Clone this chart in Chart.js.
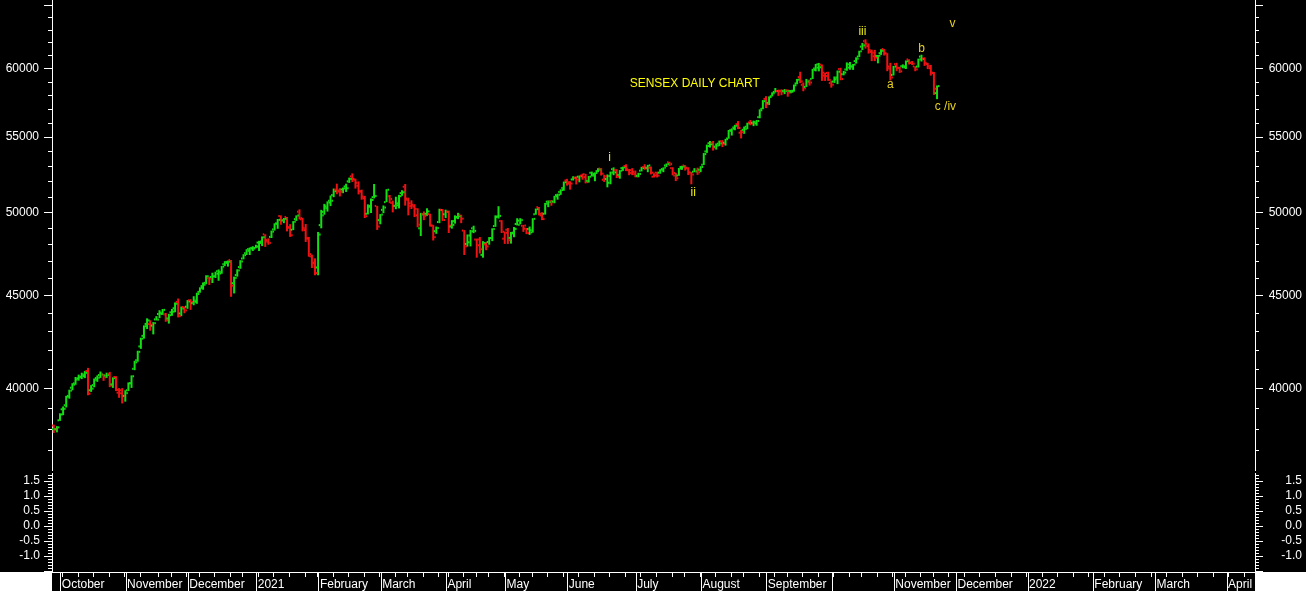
<!DOCTYPE html>
<html>
<head>
<meta charset="utf-8">
<script src="https://cdn.jsdelivr.net/npm/chart.js@4.4.1/dist/chart.umd.min.js"></script>
<style>
  html, body { margin: 0; padding: 0; background: #000; }
  #wrap { position: relative; width: 1306px; height: 591px; background: #000; overflow: hidden; }
  #priceCanvas { position: absolute; left: 0; top: 0; }
  #indCanvas { position: absolute; left: 0; top: 471px; }
</style>
</head>
<body>
<div id="wrap">
  <canvas id="priceCanvas" width="1306" height="471"></canvas>
  <canvas id="indCanvas" width="1306" height="120"></canvas>
</div>
<script>
// daily bars, [open, high, low, close], one small array per month
const sep20 = [[37620,38020,37590,37982],[38160,38200,37800,37973],[37980,38130,37830,38068]];
const oct20 = [[38410,38754,38384,38697],[38950,39090,38660,38974],[39150,39620,39040,39574],[39620,39930,39480,39879],
  [40030,40260,39900,40183],[40250,40580,40180,40509],[40450,40700,40390,40594],[40560,40800,40470,40626],
  [40700,40890,40520,40795],[40890,41050,39650,39728],[39900,40160,39820,39983],[40160,40500,40050,40432],
  [40520,40660,40330,40544],[40680,40860,40530,40708],[40700,40740,40380,40559],[40650,40800,40530,40686],
  [40740,40840,40060,40146],[40200,40560,40020,40522],[40580,40620,39860,39922],[39780,40010,39520,39750],
  [39900,40010,39240,39614]];
const nov20 = [[39620,39900,39330,39758],[39900,40300,39860,40261],[40250,40660,40020,40616],[41000,41420,40930,41340],
  [41450,41950,41370,41893],[42180,42650,42050,42597],[42750,43320,42600,43278],[43400,43710,43120,43594],
  [43390,43600,43030,43357],[43300,43500,42830,43443],[43650,43830,43590,43638],[43950,44160,43720,43953],
  [44020,44230,43900,44180],[43930,44010,43520,43600],[43700,43960,43420,43882],[44040,44230,43850,44077],
  [44270,44600,44050,44523],[44630,44820,43760,43828],[43980,44370,43830,44260],[44340,44370,43990,44150]];
const dec20 = [[44360,44730,44240,44655],[44720,44780,44180,44618],[44560,44950,44440,44633],[44700,45150,44520,45080],
  [45200,45460,45150,45427],[45530,45740,45320,45609],[45720,46160,45640,46104],[46000,46060,45600,45960],
  [46060,46310,45710,46099],[46100,46370,46000,46254],[46400,46500,45840,46263],[46360,46700,46250,46666],
  [46810,46990,46700,46890],[46950,47030,46670,46961],[47060,47060,44920,45554],[45700,46080,45110,46007],
  [46170,46510,46080,46444],[46640,47050,46540,46974],[47150,47410,47100,47354],[47470,47710,47360,47613],
  [47720,47810,47360,47746],[47790,47890,47600,47751]];
const jan21 = [[47780,47980,47770,47869],[48110,48220,47600,48177],[48090,48490,47900,48438],[48620,48620,47850,48174],
  [48260,48370,47980,48094],[48460,48850,48390,48782],[48920,49300,48850,49270],[49300,49570,48960,49517],
  [49760,49800,49210,49492],[49480,49630,49310,49584],[49700,49700,48800,49035],[49050,49250,48460,48564],
  [48900,49440,48880,49398],[49560,49800,49450,49792],[50030,50180,49540,49625],[49550,49650,48800,48879],
  [49000,49260,48150,48348],[48400,48460,47260,47410],[47280,47380,46590,46874],[46900,47160,46160,46286]];
const feb21 = [[46617,48764,46160,48601],[49190,50150,48990,49798],[50020,50530,49840,50256],[50370,50690,50040,50614],
  [50730,51070,50390,50732],[51100,51520,50960,51349],[51450,51840,51150,51329],[51400,51540,51010,51310],
  [51460,51590,51220,51532],[51660,51840,51300,51544],[51990,52240,51890,52154],[52320,52520,51950,52104],
  [52150,52170,51520,51704],[51900,51990,51140,51324],[51350,51450,50800,50890],[51000,51050,49630,49744],
  [49900,50500,49860,50395],[50340,50880,49950,50782],[50960,51820,50880,51039],[50400,50400,48890,49100]];
const mar21 = [[49500,49880,49240,49850],[50150,50430,49940,50297],[50640,51480,50640,51445],[51020,51100,50580,50846],
  [50590,50740,49990,50405],[50400,50990,50190,50441],[50570,51110,50240,51025],[51220,51410,51050,51280],
  [51640,51820,50420,50792],[50870,50930,49800,50395],[50570,50760,50200,50364],[50470,50510,49690,49801],
  [50210,50250,49050,49216],[48990,49960,48510,49858],[49880,50050,49500,49771],[49900,50250,49770,50051],
  [49880,49900,49100,49180],[49150,49190,48240,48440],[48810,49100,48650,49008],[49380,50220,49310,50137],
  [50150,50200,49450,49509]];
const apr21 = [[49870,50160,49630,50030],[50030,50100,48700,49159],[49100,49500,48970,49202],[49440,49800,49280,49662],
  [49700,49960,49560,49746],[49820,49840,49310,49592],[48850,48880,47360,47883],[48030,48610,47870,48544],
  [48130,48890,47880,48804],[48990,49150,48690,48832],[48300,48350,47200,47950],[48300,48450,47450,47706],
  [47370,48200,47200,48081],[48000,48150,47650,47879],[48150,48450,47980,48387],[48390,48990,48200,48945],
  [49130,49800,49080,49734],[49700,50380,49600,49766],[49450,49500,48700,48782]];
const may21 = [[48350,48790,48030,48719],[48900,49010,48030,48254],[48400,48760,48050,48678],[48720,49070,48440,48950],
  [49260,49620,49170,49206],[49470,49620,49240,49503],[49150,49200,48770,49162],[48970,49010,48630,48691],
  [48950,49100,48580,48733],[48870,49620,48720,49581],[49870,50230,49840,50194],[50320,50330,49800,49903],
  [49800,50000,49500,49565],[49900,50590,49850,50540],[50670,50750,50320,50652],[50700,50780,50410,50638],
  [50680,51050,50570,51018],[51100,51190,50800,51116],[51300,51470,51110,51423],[51560,51980,51380,51937]];
const jun21 = [[52050,52160,51710,51935],[51840,52000,51450,51849],[52120,52330,52050,52232],[52220,52320,51790,52100],
  [52300,52380,51930,52328],[52370,52500,52100,52276],[52470,52480,51860,51942],[52020,52350,51910,52300],
  [52560,52640,52330,52474],[52370,52590,52000,52551],[52670,52870,52600,52773],[52840,52870,52380,52502],
  [52100,52430,51950,52323],[52150,52450,51600,52344],[51900,52640,51800,52574],[52800,52920,52400,52588],
  [52740,52800,52210,52306],[52420,52740,52170,52699],[52870,52970,52690,52925],[53010,53130,52670,52735],
  [52800,52810,52400,52549],[52730,52870,52400,52483]];
const jul21 = [[52620,52710,52260,52319],[52360,52560,52260,52485],[52700,52960,52650,52880],[52950,53130,52760,52861],
  [52900,53090,52600,53055],[52900,52980,52450,52568],[52300,52530,52250,52386],[52570,52630,52250,52373],
  [52570,52800,52500,52770],[52800,52920,52600,52904],[53050,53180,52950,53159],[53270,53290,53020,53140],
  [52870,52930,52390,52553],[52380,52550,52010,52198],[52380,52880,52360,52837],[52950,53030,52760,52976],
  [53050,53070,52710,52852],[52900,52930,52410,52578],[52580,52610,51800,52443],[52630,52870,52600,52653],
  [52700,52900,52420,52587]];
const aug21 = [[52760,53000,52600,52951],[53100,53890,53080,53823],[54000,54470,53900,54370],[54560,54720,54270,54492],
  [54600,54720,54060,54278],[54330,54550,54130,54403],[54540,54750,54370,54555],[54700,54780,54300,54526],
  [54600,54870,54400,54844],[54900,55490,54880,55437],[55470,55600,55100,55582],[55670,55850,55470,55792],
  [55900,56120,55550,55629],[55300,55500,54900,55329],[55500,55730,55220,55556],[55720,56000,55550,55959],
  [56020,56200,55820,55944],[56000,56150,55760,55950],[56050,56200,55790,56125],[56400,56960,56320,56890],
  [57000,57630,56970,57552]];
const sep21 = [[57720,57920,57050,57338],[57430,57900,57270,57853],[57910,58200,57900,58130],[58230,58520,58180,58297],
  [58300,58400,57940,58280],[58310,58420,57990,58251],[58300,58440,58070,58305],[58360,58410,57880,58177],
  [58300,58370,58130,58247],[58320,58780,58250,58723],[58860,59200,58800,59141],[59330,59740,58880,59015],
  [58760,58930,58280,58491],[58600,59200,58600,59005],[58940,59150,58700,58927],[59200,59960,59190,59885],
  [59990,60330,59770,60048],[60300,60410,59770,60078],[60280,60290,59050,59668],[59440,59650,59050,59413],
  [59650,59740,59050,59126]];
const oct21 = [[58890,59070,58550,58765],[59000,59380,58900,59300],[59170,59830,58810,59745],[59950,60040,59100,59189],
  [59550,59800,59470,59678],[59910,60450,59810,60059],[60300,60480,59890,60136],[60150,60330,59880,60284],
  [60550,60840,60360,60737],[60900,61350,60860,61306],[61670,61960,61400,61766],[62100,62245,61520,61716],
  [61900,61920,61130,61260],[61400,61430,60550,60924],[61200,61420,60550,60822],[60950,61020,60380,60967],
  [61160,61470,61030,61350],[61480,61480,60980,61144],[61150,61160,59780,59985],[60130,60420,59090,59307]];
const nov21 = [[59500,60180,59460,60138],[60320,60420,59780,60030],[60030,60120,59650,59772],[60160,60300,60000,60068],
  [60160,60600,59950,60546],[60680,60690,60290,60433],[60410,60560,60250,60353],[60140,60160,59780,59920],
  [60130,60740,60060,60687],[60900,61040,60520,60719],[60750,60840,60180,60322],[60410,60410,59940,60008],
  [60170,60260,59450,59636],[59670,59720,58010,58466],[58140,58710,57700,58664]];
const closeBeforeFirst = 37389;   // close of the day before the first bar
const firstDay = -3;              // trading-day index of the first bar (1 Oct 2020 = 0)

// x axis: trading-day index of each month start, weekly ticks, month labels
const monthStarts = [-22, 0, 21, 41, 63, 83, 103, 124, 143, 163, 185, 206, 227, 248, 268, 288, 311, 332, 352, 375];
const monthNames = ['September', 'October', 'November', 'December', '2021', 'February', 'March', 'April', 'May', 'June',
  'July', 'August', 'September', '', 'November', 'December', '2022', 'February', 'March', 'April'];
const weekStarts = [1, 6, 11, 16, 21, 26, 32, 36, 41, 45, 50, 55, 59, 64, 69, 74, 79, 83, 88, 93, 98, 103, 108, 112, 117,
  122, 125, 130, 134, 138, 143, 148, 152, 157, 162, 167, 172, 177, 182, 187, 192, 197, 201, 206, 211, 216, 220, 225, 230,
  234, 239, 244, 249, 254, 258, 263, 268, 272, 277, 281, 286, 291, 296, 301, 306, 311, 316, 321, 326, 331, 336, 341, 346,
  351, 356, 361, 366, 371, 376, 381];

// y axes
const priceTicks = [37000, 38000, 39000, 40000, 41000, 42000, 43000, 44000, 45000, 46000, 47000, 48000, 49000, 50000,
  51000, 52000, 53000, 54000, 55000, 56000, 57000, 58000, 59000, 60000, 61000, 62000, 63000, 64000, 65000];
const priceLabels = [40000, 45000, 50000, 55000, 60000];
const indTicks = [-1.5, -1.4, -1.3, -1.2, -1.1, -1.0, -0.9, -0.8, -0.7, -0.6, -0.5, -0.4, -0.3, -0.2, -0.1, 0.0,
  0.1, 0.2, 0.3, 0.4, 0.5, 0.6, 0.7, 0.8, 0.9, 1.0, 1.1, 1.2, 1.3, 1.4, 1.5, 1.6, 1.7];
const indLabels = [-1.0, -0.5, 0.0, 0.5, 1.0, 1.5];

// wave count notes
const noteText = ['SENSEX DAILY CHART', 'i', 'ii', 'iii', 'a', 'b', 'c /iv', 'v'];
const noteDay = [204.1, 176.7, 203.6, 258.0, 267.0, 277.0, 284.7, 287.0];
const notePrice = [58830, 53590, 51260, 62840, 58745, 61540, 57140, 63470];

const GREEN = '#12e012';
const RED = '#f01212';
const WHITE = '#ffffff';
const FONT = '"Liberation Sans", Arial, sans-serif';
const X_MIN = -2.57, X_MAX = 384.24;

Chart.defaults.font.family = FONT;
Chart.defaults.font.size = 12;
Chart.defaults.color = WHITE;

const bars = [].concat(sep20, oct20, nov20, dec20, jan21, feb21, mar21, apr21, may21, jun21, jul21, aug21, sep21, oct21, nov21);
const opens = bars.map(b => b[0]);
const highs = bars.map(b => b[1]);
const lows = bars.map(b => b[2]);
const closes = bars.map(b => b[3]);
const days = bars.map((b, k) => firstDay + k);

function barColor(k) {
    const prev = k > 0 ? closes[k - 1] : closeBeforeFirst;
    return closes[k] >= prev ? GREEN : RED;
}

function isMultiple(v, step) {
    return Math.abs(v / step - Math.round(v / step)) < 1e-6;
}

// open / close ticks on each bar
const ohlcTicks = {
    id: 'ohlcTicks',
    afterDatasetsDraw(chart) {
        const ctx = chart.ctx, x = chart.scales.x, y = chart.scales.yL, a = chart.chartArea;
        ctx.save();
        ctx.beginPath();
        ctx.rect(a.left, a.top, a.right - a.left, a.bottom - a.top);
        ctx.clip();
        for (let k = 0; k < bars.length; k++) {
            const px = x.getPixelForValue(days[k]);
            ctx.fillStyle = barColor(k);
            ctx.fillRect(px - 2.5, y.getPixelForValue(opens[k]) - 1, 1.5, 2);
            ctx.fillRect(px + 1, y.getPixelForValue(closes[k]) - 1, 1.5, 2);
        }
        ctx.restore();
    }
};

// small and large tick marks on the value axes
const axisTicks = {
    id: 'axisTicks',
    afterDraw(chart, args, opts) {
        const ctx = chart.ctx, a = chart.chartArea;
        ctx.save();
        ctx.fillStyle = WHITE;
        ['yL', 'yR'].forEach(id => {
            const s = chart.scales[id];
            s.ticks.forEach(t => {
                const py = Math.round(s.getPixelForValue(t.value));
                const len = isMultiple(t.value, opts.major) ? 8 : 4;
                if (s.position === 'left') ctx.fillRect(a.left - len, py, len, 1);
                else ctx.fillRect(a.right, py, len, 1);
            });
        });
        ctx.restore();
    }
};

const waveNotes = {
    id: 'waveNotes',
    afterDatasetsDraw(chart) {
        const ctx = chart.ctx, x = chart.scales.x, y = chart.scales.yL;
        ctx.save();
        ctx.font = '12px ' + FONT;
        ctx.textAlign = 'center';
        ctx.textBaseline = 'middle';
        noteText.forEach((t, k) => {
            ctx.fillStyle = k === 0 ? '#ffff00' : (k <= 3 ? '#ecec10' : '#e6d020');
            ctx.fillText(t, x.getPixelForValue(noteDay[k]), y.getPixelForValue(notePrice[k]));
        });
        ctx.restore();
    }
};

// month separators, weekly ticks and the white corners of the date strip
const dateStrip = {
    id: 'dateStrip',
    afterDraw(chart) {
        const ctx = chart.ctx, x = chart.scales.x, a = chart.chartArea;
        ctx.save();
        ctx.fillStyle = WHITE;
        monthStarts.forEach(m => {
            const px = Math.round(x.getPixelForValue(m + 0.1));
            if (px > a.left && px < a.right) ctx.fillRect(px, x.top, 1, chart.height - x.top);
        });
        weekStarts.forEach(w => {
            const px = Math.round(x.getPixelForValue(w - 0.35));
            if (px > a.left && px < a.right) ctx.fillRect(px, x.top, 1, 5);
        });
        ctx.fillRect(0, x.top, a.left, chart.height - x.top);
        ctx.fillRect(a.right, x.top, chart.width - a.right, chart.height - x.top);
        ctx.restore();
    }
};

function valueAxis(pos, extra) {
    return Object.assign({
        position: pos,
        grid: { display: false, drawTicks: true, tickLength: 8 },
        border: { display: true, color: WHITE, width: 1 },
        afterFit: s => {
            s.width = pos === 'left' ? 52 : 47;
            s.paddingTop = 0;
            s.paddingBottom = 0;
        }
    }, extra);
}

function priceAxis(pos) {
    return valueAxis(pos, {
        type: 'logarithmic', min: 36067, max: 65424,
        afterBuildTicks: s => { s.ticks = priceTicks.map(v => ({ value: v })); },
        ticks: {
            color: WHITE, autoSkip: false, padding: 5,
            crossAlign: pos === 'left' ? 'near' : 'far',
            callback: v => priceLabels.includes(v) ? String(v) : ''
        }
    });
}

function indAxis(pos) {
    return valueAxis(pos, {
        type: 'linear', min: -1.543, max: 1.757,
        afterBuildTicks: s => { s.ticks = indTicks.map(v => ({ value: v })); },
        ticks: {
            color: WHITE, autoSkip: false, padding: 4,
            crossAlign: pos === 'left' ? 'near' : 'far',
            callback: v => indLabels.some(l => Math.abs(l - v) < 1e-6) ? v.toFixed(1) : ''
        }
    });
}

new Chart(document.getElementById('priceCanvas'), {
    type: 'bar',
    data: {
        datasets: [{
            data: days.map((d, k) => ({ x: d, y: [lows[k], highs[k]] })),
            xAxisID: 'x',
            yAxisID: 'yL',
            backgroundColor: ctx => barColor(ctx.dataIndex),
            borderWidth: 0,
            barThickness: 2,
            inflateAmount: 0
        }]
    },
    options: {
        responsive: false,
        animation: false,
        events: [],
        layout: { padding: { left: 0, right: 4, top: 0, bottom: 1 } },
        plugins: { legend: { display: false }, tooltip: { enabled: false }, axisTicks: { major: 5000 } },
        scales: {
            x: { type: 'linear', min: X_MIN, max: X_MAX, offset: false, display: false },
            yL: priceAxis('left'),
            yR: priceAxis('right')
        }
    },
    plugins: [ohlcTicks, waveNotes, axisTicks]
});

new Chart(document.getElementById('indCanvas'), {
    type: 'line',
    data: { datasets: [] },
    options: {
        responsive: false,
        animation: false,
        events: [],
        layout: { padding: { left: 0, right: 4, top: 2, bottom: 0 } },
        plugins: { legend: { display: false }, tooltip: { enabled: false }, axisTicks: { major: 0.5 } },
        scales: {
            x: {
                type: 'linear', position: 'bottom', min: X_MIN, max: X_MAX, offset: false,
                grid: { display: false, drawTicks: false },
                border: { display: true, color: WHITE, width: 1 },
                afterBuildTicks: s => { s.ticks = monthStarts.map(m => ({ value: m + 0.58 })); },
                afterFit: s => { s.height = 19; s.paddingLeft = 0; s.paddingRight = 0; },
                ticks: {
                    color: WHITE, autoSkip: false, maxRotation: 0, minRotation: 0, align: 'start', padding: 5.5,
                    callback: (v, i) => monthNames[i]
                }
            },
            yL: indAxis('left'),
            yR: indAxis('right')
        }
    },
    plugins: [axisTicks, dateStrip]
});
</script>
</body>
</html>
